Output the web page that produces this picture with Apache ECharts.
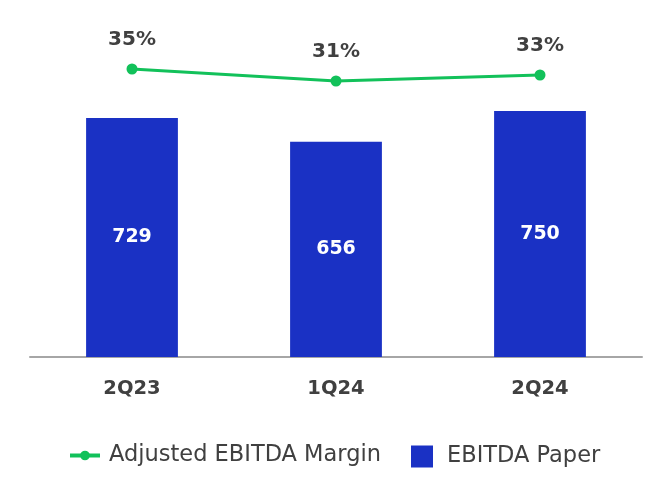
<!DOCTYPE html>
<html>
<head>
<meta charset="utf-8">
<script src="https://cdn.jsdelivr.net/npm/echarts@6/dist/echarts.min.js"></script>
<style>html,body{margin:0;padding:0;background:#fff}#c{width:672px;height:480px}</style>
</head>
<body>
<div id="c"></div>
<script>
const categories = ['2Q23', '1Q24', '2Q24'];
const ebitdaPaper = [729, 656, 750];
const adjustedMargin = [35, 31, 33];

const FONT = '"DejaVu Sans", sans-serif';
const chart = echarts.init(document.getElementById('c'), null, {renderer: 'canvas'});
chart.setOption({
  animation: false,
  backgroundColor: '#ffffff',
  textStyle: {fontFamily: FONT},
  grid: {left: 30, right: 30, top: 29, bottom: 123, containLabel: false},
  legend: [{
    data: [{name: 'Adjusted EBITDA Margin', lineStyle: {width: 4, color: '#12c15a'}}],
    left: 68, top: 444, padding: 0,
    itemWidth: 30, itemHeight: 12,
    textStyle: {fontSize: 22.5, color: '#404040', fontFamily: FONT, padding: [0, 0, 0, 4]}
  }, {
    data: [{name: 'EBITDA Paper', icon: 'rect'}],
    left: 411, top: 445, padding: 0,
    itemWidth: 22, itemHeight: 22,
    textStyle: {fontSize: 22.5, color: '#404040', fontFamily: FONT, padding: [0, 0, 0, 9]}
  }],
  xAxis: {
    type: 'category',
    data: categories,
    axisLine: {lineStyle: {color: '#a6a6a6', width: 2}},
    axisTick: {show: false},
    axisLabel: {margin: 22, fontSize: 19.5, fontWeight: 'bold', color: '#404040', fontFamily: FONT}
  },
  yAxis: [{
    type: 'value', min: 0, max: 1000, show: false, splitLine: {show: false}
  }, {
    type: 'value', min: -61, max: 48.33, show: false, splitLine: {show: false}
  }],
  series: [{
    name: 'EBITDA Paper',
    type: 'bar',
    data: ebitdaPaper,
    barWidth: '45%',
    itemStyle: {color: '#1a31c4'},
    label: {show: true, position: 'inside', color: '#ffffff', fontSize: 19, fontWeight: 'bold', fontFamily: FONT}
  }, {
    name: 'Adjusted EBITDA Margin',
    type: 'line',
    yAxisIndex: 1,
    data: adjustedMargin,
    symbol: 'circle',
    symbolSize: 11,
    lineStyle: {color: '#12c15a', width: 3},
    itemStyle: {color: '#12c15a'},
    label: {show: true, position: 'top', distance: 14, formatter: '{c}%', color: '#404040', fontSize: 20, fontWeight: 'bold', fontFamily: FONT}
  }]
});
</script>
</body>
</html>
